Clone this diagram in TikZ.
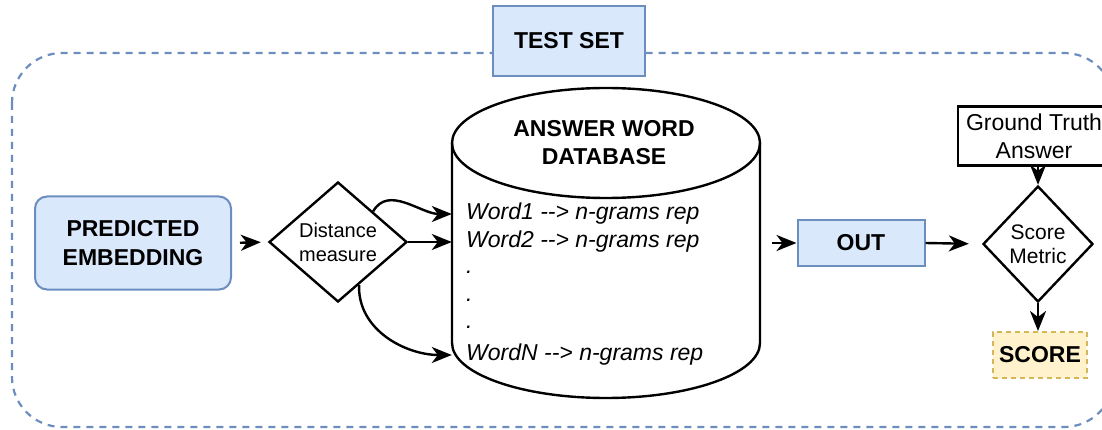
\documentclass[tikz,border=0pt]{standalone}
\usepackage{fontspec}
\setmainfont{Liberation Sans}
\usetikzlibrary{shapes.geometric, arrows.meta, calc}
\definecolor{boxblue}{HTML}{DAE8FC}
\definecolor{lineblue}{HTML}{6C8EBF}
\definecolor{boxyellow}{HTML}{FFF2CC}
\definecolor{lineyellow}{HTML}{D6B656}
\tikzset{
  bluebox/.style={draw=lineblue, fill=boxblue, line width=2pt, align=center,
    font=\fontsize{23}{29}\selectfont\bfseries},
  choice/.style={diamond, draw, line width=2.4pt, align=center, inner sep=0pt},
  flow/.style={-{Stealth[length=20pt, width=16pt, inset=6pt]}, line width=2.4pt},
  wordline/.style={anchor=west, inner sep=0pt, font=\fontsize{23}{28}\selectfont\itshape},
}

\begin{document}
\begin{tikzpicture}[x=1pt, y=1pt]
\clip (0,0) rectangle (1102,-430);
% test set frame
\draw[lineblue, line width=2.2pt, dash pattern=on 7pt off 6pt, rounded corners=50pt] (12,-53) rectangle (1114,-427);
\node[bluebox, minimum width=152, minimum height=70] (testset) at (569,-41) {TEST SET};

\node[bluebox, rounded corners=12pt, minimum width=196, minimum height=93] (pred) at (133,-243) {PREDICTED\\EMBEDDING};
\node[choice, minimum width=138, minimum height=120, font=\fontsize{20}{24}\selectfont] (dist) at (338,-242) {Distance\\measure};

% database cylinder
\node[minimum width=308, minimum height=310, inner sep=0pt] (db) at (606,-243) {};
\draw[line width=2.4pt] (606,-143) ellipse [x radius=154, y radius=55];
\draw[line width=2.4pt] (452,-143) -- (452,-343) arc[start angle=180, end angle=360, x radius=154, y radius=55] -- (760,-143);
\node[align=center, font=\fontsize{23}{28}\selectfont\bfseries] (dbtitle) at (604,-143) {ANSWER WORD\\DATABASE};
\node[wordline] (w1) at (466,-214) {Word1 -{}-> n-grams rep};
\node[wordline] (w2) at (466,-242) {Word2 -{}-> n-grams rep};
\node[wordline] (dot1) at (466,-272) {.};
\node[wordline] (dot2) at (466,-300) {.};
\node[wordline] (dot3) at (466,-327) {.};
\node[wordline] (wn) at (466,-355) {WordN -{}-> n-grams rep};

\node[bluebox, minimum width=127, minimum height=46] (out) at (861,-243) {OUT};
\node[draw, line width=2.4pt, minimum width=152, minimum height=59, align=center,
  font=\fontsize{23}{28}\selectfont] (gt) at (1034,-136) {Ground Truth\\Answer};
\node[choice, minimum width=110, minimum height=116, font=\fontsize{21}{24}\selectfont] (metric) at (1038,-244) {Score\\Metric};
\node[draw=lineyellow, fill=boxyellow, line width=2pt, dash pattern=on 5pt off 4pt,
  minimum width=94, minimum height=46, font=\fontsize{23}{29}\selectfont\bfseries] (score) at (1040,-355) {SCORE};

\draw[flow, shorten <=8pt, shorten >=7pt] (pred.east) -- (dist.west);
\draw[flow] ($(dist.north)!0.5!(dist.east)$) to[out=60, in=180] (w1.west -| db.west);
\draw[flow] (dist.east) -- (w2.west -| db.west);
\draw[flow] ($(dist.south)!0.3!(dist.east)$) to[out=-92, in=180] (wn.west -| db.west);
\draw[flow, shorten <=12pt] (db.east) -- (out.west);
\draw[flow, shorten >=13pt] (out.east) -- (metric.west);
\draw[flow] (gt.south -| metric.north) -- (metric.north);
\draw[flow] (metric.south) -- (score.north -| metric.south);
\end{tikzpicture}
\end{document}
